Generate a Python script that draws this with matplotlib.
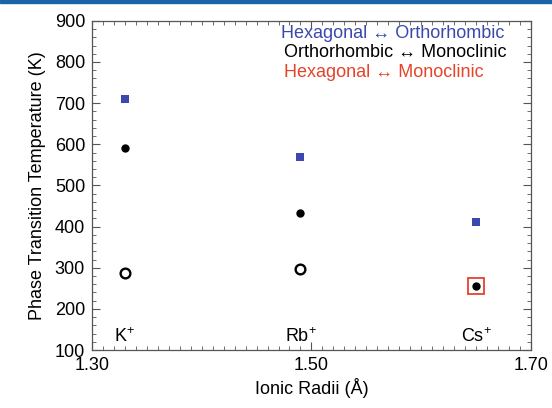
import matplotlib
matplotlib.use("Agg")
import matplotlib.pyplot as plt
from matplotlib.patches import Rectangle
from matplotlib.ticker import MultipleLocator, FixedLocator

plt.rcParams['font.family'] = ['Liberation Sans', 'DejaVu Sans']
plt.rcParams['mathtext.fontset'] = 'custom'
plt.rcParams['mathtext.rm'] = 'Liberation Sans'

# ionic radii (Angstrom) and transition temperatures (K)
ions = ['K$^{+}$', 'Rb$^{+}$', 'Cs$^{+}$']
radii = [1.33, 1.49, 1.65]
hex_ortho = [711, 569, 412]
ortho_mono = [590, 432, 255]
ortho_mono_open = [288, 298]
hex_mono = [255]

blue = '#3a48b0'
red = '#e5432a'

fig = plt.figure(figsize=(5.52, 4.08), dpi=100)
ax = fig.add_axes([0.1667, 0.142, 0.795, 0.807])

ax.plot(radii, hex_ortho, 's', color=blue, ms=5.2, mew=0)
ax.plot(radii, ortho_mono, 'o', color='black', ms=6, mew=0)
ax.plot(radii[:2], ortho_mono_open, 'o', mfc='white', mec='black', ms=7, mew=1.7)
ax.plot(radii[2:], hex_mono, 's', mfc='none', mec=red, ms=12, mew=1.3)

for r, name in zip(radii, ions):
    ax.text(r, 132, name, ha='center', va='center', fontsize=13)

ax.text(1.472, 870, 'Hexagonal \u2194 Orthorhombic', color=blue, fontsize=13, va='center')
ax.text(1.475, 823, 'Orthorhombic \u2194 Monoclinic', color='black', fontsize=13, va='center')
ax.text(1.475, 775, 'Hexagonal \u2194 Monoclinic', color=red, fontsize=13, va='center')

ax.set_xlim(1.30, 1.70)
ax.set_ylim(100, 900)
ax.xaxis.set_major_locator(FixedLocator([1.30, 1.50, 1.70]))
ax.xaxis.set_minor_locator(MultipleLocator(0.01))
ax.set_xticklabels(['1.30', '1.50', '1.70'])
ax.yaxis.set_major_locator(MultipleLocator(100))
ax.yaxis.set_minor_locator(MultipleLocator(20))

ax.tick_params(which='both', direction='in', top=True, right=True, labelsize=13, color='#555555')
ax.tick_params(which='major', length=6, width=0.8, pad=5)
ax.tick_params(which='minor', length=3, width=0.6)
for s in ax.spines.values():
    s.set_color('#555555')
    s.set_linewidth(0.9)

ax.set_xlabel('Ionic Radii (\u00c5)', fontsize=13, labelpad=3)
ax.set_ylabel('Phase Transition Temperature (K)', fontsize=13, labelpad=6)

# thin blue band along the top edge
fig.patches.append(Rectangle((0, 0.992), 1, 0.008, transform=fig.transFigure,
                             color='#1b63a6', zorder=0))

fig.savefig('out.png', dpi=100)
